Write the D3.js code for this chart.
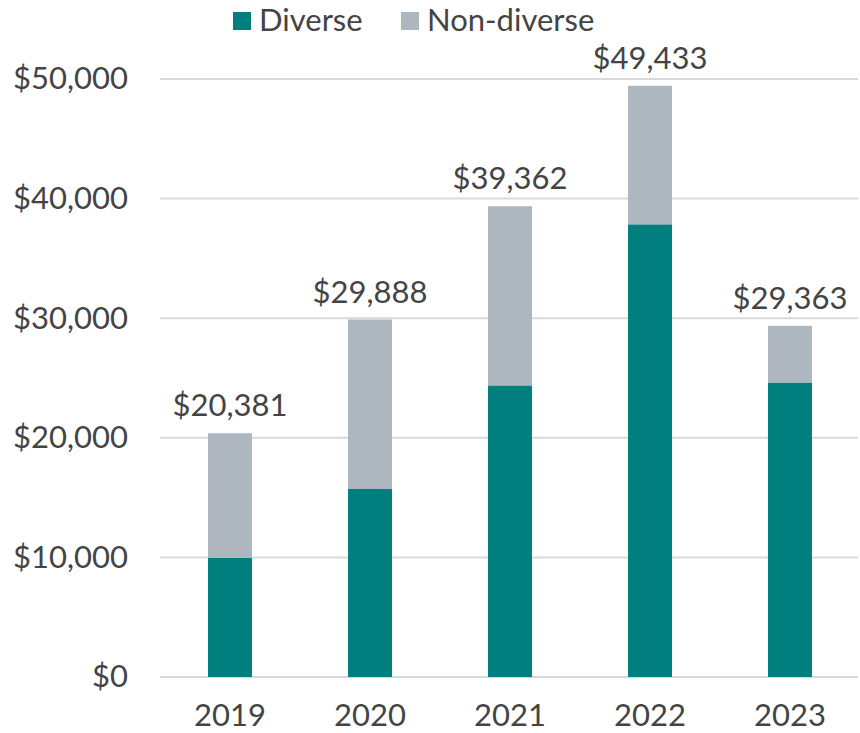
<!DOCTYPE html>
<html>
<head>
<meta charset="utf-8">
<script src="https://cdn.jsdelivr.net/npm/d3@7"></script>
<style>
  body { margin: 0; background: #fff; }
  text { font-family: Lato, "Open Sans", sans-serif; fill: #444; }
</style>
</head>
<body>
<div class="chart"></div>
<script>
var svgWidth = 860;
var svgHeight = 733;

// data
var years = ["2019", "2020", "2021", "2022", "2023"];
var diverse = [9950, 15720, 24380, 37850, 24620];
var totals = [20381, 29888, 39362, 49433, 29363];
var yTicks = [0, 10000, 20000, 30000, 40000, 50000];
var seriesNames = ["Diverse", "Non-diverse"];
var colors = ["#007F7E", "#AEB6BF"];

var margin = { top: 79, right: 0, bottom: 56, left: 160 };
var width = svgWidth - margin.left - margin.right;
var height = svgHeight - margin.top - margin.bottom;
var fontSize = "31px";

var svg = d3.select(".chart")
  .append("svg")
  .attr("width", svgWidth)
  .attr("height", svgHeight);

var chartGroup = svg.append("g")
  .attr("transform", `translate(${margin.left}, ${margin.top})`);

var rows = years.map(function(y, i) {
  return { year: y, "Diverse": diverse[i], "Non-diverse": totals[i] - diverse[i], total: totals[i] };
});

var xScale = d3.scaleBand()
  .domain(years)
  .range([0, width])
  .paddingInner(0.686)
  .paddingOuter(0.343);

var yScale = d3.scaleLinear()
  .domain([0, 50000])
  .range([height, 0]);

// gridlines
chartGroup.selectAll(".grid")
  .data(yTicks)
  .enter()
  .append("line")
  .attr("x1", 0)
  .attr("x2", width - 2)
  .attr("y1", d => yScale(d))
  .attr("y2", d => yScale(d))
  .attr("stroke", "#d9d9d9")
  .attr("stroke-width", 2);

// y axis labels
var leftAxis = d3.axisLeft(yScale)
  .tickValues(yTicks)
  .tickSize(0)
  .tickPadding(32)
  .tickFormat(d => "$" + d3.format(",")(d));

chartGroup.append("g")
  .call(leftAxis)
  .call(g => g.select(".domain").remove())
  .selectAll("text")
  .attr("font-size", fontSize)
  .style("fill", "#444")
  .style("font-family", "Lato, 'Open Sans', sans-serif");

// x axis labels
var bottomAxis = d3.axisBottom(xScale).tickSize(0).tickPadding(27);

chartGroup.append("g")
  .attr("transform", `translate(0, ${height})`)
  .call(bottomAxis)
  .call(g => g.select(".domain").remove())
  .selectAll("text")
  .attr("font-size", fontSize)
  .style("fill", "#444")
  .style("font-family", "Lato, 'Open Sans', sans-serif");

// stacked bars
var stacked = d3.stack().keys(seriesNames)(rows);

chartGroup.selectAll(".series")
  .data(stacked)
  .enter()
  .append("g")
  .attr("fill", (d, i) => colors[i])
  .selectAll("rect")
  .data(d => d)
  .enter()
  .append("rect")
  .attr("x", d => xScale(d.data.year))
  .attr("width", xScale.bandwidth())
  .attr("y", d => yScale(d[1]))
  .attr("height", d => yScale(d[0]) - yScale(d[1]));

// total labels
chartGroup.selectAll(".total")
  .data(rows)
  .enter()
  .append("text")
  .attr("x", d => xScale(d.year) + xScale.bandwidth() / 2)
  .attr("y", d => yScale(d.total) - 17)
  .attr("text-anchor", "middle")
  .attr("font-size", fontSize)
  .text(d => "$" + d3.format(",")(d.total));

// legend
var legend = svg.append("g");
var legendX = [233, 401];

seriesNames.forEach(function(name, i) {
  legend.append("rect")
    .attr("x", legendX[i])
    .attr("y", 12)
    .attr("width", 18)
    .attr("height", 18)
    .attr("fill", colors[i]);
  legend.append("text")
    .attr("x", legendX[i] + 26)
    .attr("y", 31)
    .attr("font-size", fontSize)
    .text(name);
});
</script>
</body>
</html>
